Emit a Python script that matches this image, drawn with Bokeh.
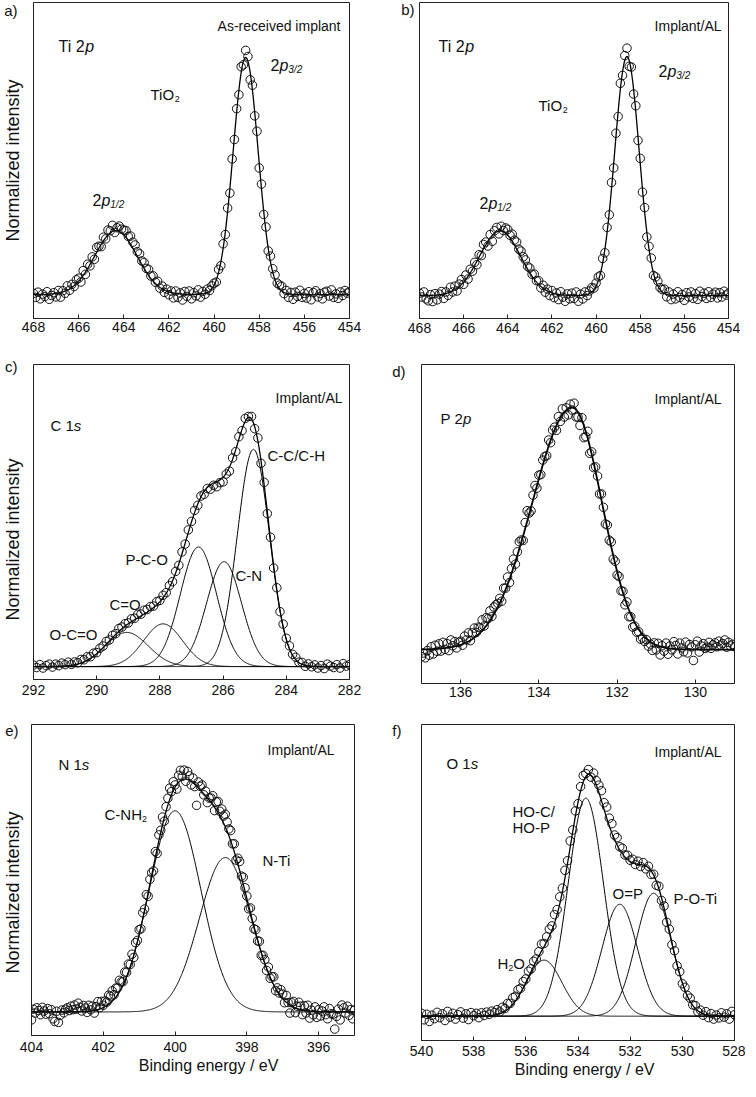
import numpy as np
from bokeh.plotting import figure
from bokeh.models import Range1d, FixedTicker, Label
from bokeh.layouts import column, row
from bokeh.embed import file_html
from bokeh.resources import INLINE

FONT = "Liberation Sans"
NB = "\u00a0"

# ---------------- fitted peak parameters -------------
# panel a: Ti 2p, as-received (single fitted envelope)
a_centers = [458.6, 464.35]
a_heights = [1.0, 0.27]
a_fwhm = [1.3, 2.2]
# panel b: Ti 2p, implant/AL
b_centers = [458.6, 464.35]
b_heights = [1.0, 0.27]
b_fwhm = [1.3, 2.2]
# panel c: C 1s components
c_names = ["O-C=O", "C=O", "P-C-O", "C-N", "C-C/C-H"]
c_centers = [289.05, 287.9, 286.78, 285.97, 285.04]
c_heights = [0.14, 0.175, 0.49, 0.43, 0.89]
c_fwhm = [1.6, 1.45, 1.35, 1.3, 1.2]
# panel d: P 2p (asymmetric envelope)
d_center = 133.15
d_height = 1.0
d_hwhm_high = 1.2
d_hwhm_low = 0.9
# panel e: N 1s components
e_names = ["C-NH2", "N-Ti"]
e_centers = [400.0, 398.6]
e_heights = [0.878, 0.674]
e_fwhm = [1.7, 1.7]
# panel f: O 1s components
f_names = ["H2O", "HO-C/HO-P", "O=P", "P-O-Ti"]
f_centers = [535.3, 533.7, 532.4, 531.1]
f_heights = [0.233, 0.906, 0.465, 0.511]
f_fwhm = [1.6, 1.6, 1.6, 1.6]

# ---------------- measured points (normalized intensity) ---------------------
# binding-energy scans: first value, step (eV)
a_start, a_step = 468.0, 0.1
a_y = [0.005, -0.012, 0.010, -0.018, 0.002, -0.008, 0.012, -0.020, -0.004, 0.008,
       -0.010, 0.017, -0.011, 0.016, 0.005, 0.037, 0.018, 0.043, 0.034, 0.062,
       0.069, 0.053, 0.101, 0.085, 0.128, 0.121, 0.159, 0.149, 0.199, 0.204,
       0.202, 0.242, 0.235, 0.272, 0.269, 0.292, 0.262, 0.282, 0.289, 0.276,
       0.272, 0.270, 0.245, 0.247, 0.221, 0.209, 0.181, 0.172, 0.142, 0.135,
       0.110, 0.106, 0.078, 0.079, 0.052, 0.056, 0.027, 0.036, 0.009, 0.023,
       -0.001, 0.015, -0.014, 0.015, -0.012, 0.007, -0.023, 0.013, -0.008, 0.015,
       -0.018, 0.008, -0.006, 0.020, -0.011, 0.013, 0.001, 0.023, 0.017, 0.037,
       0.048, 0.053, 0.106, 0.122, 0.214, 0.253, 0.365, 0.428, 0.572, 0.654,
       0.784, 0.843, 0.961, 0.969, 1.030, 1.004, 0.906, 0.883, 0.754, 0.689,
       0.534, 0.466, 0.338, 0.285, 0.184, 0.162, 0.109, 0.083, 0.048, 0.040,
       0.035, 0.004, 0.017, -0.012, 0.009, -0.020, 0.010, -0.008, 0.018, -0.012,
       0.005, -0.015, 0.012, -0.022, 0.008, 0.016, -0.010, 0.004, -0.018, 0.010,
       0.014, -0.006, 0.020, -0.012, 0.003, -0.016, 0.011, -0.004, 0.017, 0.006,
       0.012]
b_start, b_step = 468.0, 0.1
b_y = [0.010, -0.006, 0.015, -0.014, -0.022, 0.004, -0.025, 0.008, -0.018, 0.006,
       0.017, -0.012, 0.015, 0.001, 0.035, 0.015, 0.039, 0.019, 0.048, 0.067,
       0.047, 0.086, 0.069, 0.110, 0.102, 0.139, 0.129, 0.171, 0.167, 0.214,
       0.224, 0.207, 0.255, 0.227, 0.271, 0.285, 0.258, 0.290, 0.272, 0.283,
       0.277, 0.252, 0.257, 0.232, 0.224, 0.194, 0.186, 0.162, 0.149, 0.122,
       0.115, 0.089, 0.090, 0.062, 0.062, 0.032, 0.043, 0.014, 0.027, 0.000,
       0.021, -0.009, 0.011, -0.017, 0.016, -0.007, -0.024, 0.007, -0.014, 0.010,
       -0.012, 0.015, -0.024, 0.006, -0.014, 0.015, 0.000, 0.019, 0.033, 0.031,
       0.052, 0.078, 0.084, 0.155, 0.179, 0.285, 0.338, 0.473, 0.534, 0.679,
       0.749, 0.888, 0.921, 1.004, 1.035, 0.959, 0.956, 0.843, 0.794, 0.649,
       0.574, 0.433, 0.368, 0.245, 0.206, 0.157, 0.084, 0.078, 0.060, 0.033,
       0.025, 0.027, -0.005, 0.015, -0.017, 0.006, -0.014, 0.016, -0.008, 0.004,
       -0.020, 0.012, -0.006, 0.015, -0.012, 0.008, -0.016, 0.018, -0.004, 0.010,
       -0.012, 0.016, -0.008, 0.006, 0.014, -0.010, 0.012, -0.006, 0.018, 0.002,
       0.010]
c_start, c_step = 292.0, 0.1
c_y = [0.006, -0.004, 0.008, -0.006, 0.004, 0.010, -0.002, 0.010, 0.004, 0.014,
       0.008, 0.018, 0.009, 0.019, 0.016, 0.029, 0.028, 0.040, 0.040, 0.055,
       0.057, 0.075, 0.084, 0.103, 0.109, 0.128, 0.135, 0.156, 0.162, 0.176,
       0.179, 0.196, 0.198, 0.214, 0.215, 0.231, 0.234, 0.246, 0.248, 0.266,
       0.271, 0.292, 0.303, 0.332, 0.348, 0.390, 0.415, 0.470, 0.502, 0.560,
       0.595, 0.640, 0.661, 0.699, 0.706, 0.730, 0.727, 0.743, 0.737, 0.754,
       0.757, 0.789, 0.801, 0.855, 0.881, 0.942, 0.967, 1.017, 1.025, 1.025,
       0.975, 0.937, 0.833, 0.755, 0.627, 0.530, 0.404, 0.323, 0.225, 0.174,
       0.116, 0.085, 0.050, 0.038, 0.018, 0.017, 0.001, 0.011, -0.001, 0.007,
       -0.006, 0.004, -0.008, 0.010, 0.002, -0.004, 0.008, -0.006, 0.012, 0.002,
       0.008]
d_start, d_step = 137.0, 0.05
d_y = [-0.029, -0.014, -0.034, -0.004, -0.023, 0.012, -0.018, 0.018, -0.007, 0.024,
       -0.006, 0.030, 0.001, 0.025, -0.004, 0.040, 0.016, 0.033, 0.007, 0.030,
       0.035, 0.018, 0.056, 0.040, 0.069, 0.037, 0.069, 0.089, 0.071, 0.093,
       0.090, 0.123, 0.097, 0.132, 0.128, 0.160, 0.137, 0.176, 0.185, 0.191,
       0.212, 0.200, 0.254, 0.254, 0.300, 0.277, 0.335, 0.374, 0.353, 0.404,
       0.446, 0.453, 0.451, 0.525, 0.574, 0.564, 0.573, 0.638, 0.678, 0.667,
       0.721, 0.723, 0.783, 0.798, 0.801, 0.866, 0.855, 0.907, 0.919, 0.906,
       0.963, 0.943, 0.995, 0.961, 0.999, 0.970, 1.014, 0.990, 1.018, 0.961,
       0.961, 0.926, 0.958, 0.876, 0.880, 0.902, 0.811, 0.817, 0.752, 0.755,
       0.717, 0.643, 0.643, 0.588, 0.519, 0.515, 0.452, 0.445, 0.374, 0.365,
       0.308, 0.302, 0.243, 0.241, 0.185, 0.197, 0.136, 0.136, 0.093, 0.097,
       0.072, 0.074, 0.043, 0.048, 0.034, 0.041, 0.014, 0.023, -0.003, 0.028,
       -0.001, 0.026, -0.022, 0.016, -0.006, 0.027, -0.019, 0.015, -0.001, 0.033,
       0.017, -0.018, 0.027, 0.007, -0.009, 0.031, -0.014, 0.021, 0.011, -0.045,
       0.020, 0.035, -0.010, 0.015, 0.025, 0.005, 0.010, 0.030, 0.005, 0.020,
       0.028, 0.012, 0.035, 0.018, 0.025, 0.040, 0.010, 0.030, 0.015, 0.022,
       0.012]
e_start, e_step = 404.0, 0.05
e_y = [-0.035, 0.012, -0.005, 0.018, 0.006, -0.012, 0.020, 0.004, -0.010, 0.015,
       -0.008, 0.010, -0.030, -0.042, 0.003, -0.046, -0.015, 0.008, -0.004, 0.012,
       0.018, 0.006, 0.025, 0.010, 0.030, 0.012, 0.038, 0.020, 0.004, 0.028,
       0.017, -0.002, 0.029, 0.009, 0.025, -0.005, 0.023, 0.045, 0.018, 0.046,
       0.029, 0.048, 0.043, 0.073, 0.069, 0.092, 0.075, 0.104, 0.105, 0.138,
       0.131, 0.132, 0.174, 0.173, 0.209, 0.207, 0.252, 0.238, 0.302, 0.312,
       0.359, 0.363, 0.433, 0.449, 0.512, 0.505, 0.579, 0.608, 0.616, 0.700,
       0.692, 0.773, 0.793, 0.851, 0.833, 0.896, 0.933, 0.977, 0.962, 1.005,
       0.991, 0.973, 1.033, 1.055, 1.029, 1.056, 1.007, 1.050, 1.031, 0.991,
       1.021, 0.984, 0.902, 1.004, 0.985, 0.991, 0.948, 0.964, 0.914, 0.934,
       0.934, 0.944, 0.879, 0.917, 0.919, 0.876, 0.886, 0.855, 0.863, 0.829,
       0.799, 0.792, 0.734, 0.734, 0.663, 0.671, 0.657, 0.593, 0.588, 0.542,
       0.506, 0.450, 0.454, 0.408, 0.363, 0.359, 0.310, 0.308, 0.247, 0.247,
       0.228, 0.181, 0.196, 0.147, 0.154, 0.153, 0.093, 0.105, 0.083, 0.097,
       0.078, 0.040, 0.072, 0.041, -0.005, 0.040, 0.046, -0.003, 0.025, 0.042,
       0.025, -0.012, 0.027, -0.005, 0.029, -0.027, 0.008, -0.013, 0.022, -0.024,
       0.010, -0.018, 0.004, 0.022, -0.012, -0.030, 0.015, -0.008, -0.010, -0.075,
       -0.020, 0.012, -0.035, 0.030, 0.018, -0.005, 0.025, -0.015, 0.010, -0.030,
       0.008]
f_start, f_step = 540.0, 0.1
f_y = [0.012, -0.015, 0.008, -0.022, 0.004, -0.010, 0.016, -0.006, 0.010, -0.018,
       0.020, -0.004, 0.012, -0.012, 0.006, 0.018, -0.008, 0.010, -0.014, 0.015,
       0.002, 0.012, -0.006, 0.014, 0.003, 0.017, 0.008, 0.021, 0.015, 0.027,
       0.018, 0.037, 0.032, 0.053, 0.053, 0.077, 0.083, 0.110, 0.116, 0.144,
       0.155, 0.187, 0.197, 0.228, 0.238, 0.268, 0.300, 0.302, 0.330, 0.362,
       0.375, 0.422, 0.443, 0.496, 0.532, 0.606, 0.646, 0.728, 0.774, 0.853,
       0.883, 0.954, 1.000, 1.008, 1.025, 0.993, 1.010, 0.979, 0.960, 0.937,
       0.887, 0.869, 0.823, 0.800, 0.753, 0.742, 0.704, 0.698, 0.670, 0.669,
       0.648, 0.652, 0.630, 0.644, 0.622, 0.638, 0.612, 0.623, 0.589, 0.590,
       0.544, 0.540, 0.481, 0.458, 0.390, 0.362, 0.297, 0.272, 0.209, 0.185,
       0.135, 0.120, 0.086, 0.075, 0.047, 0.044, 0.018, 0.025, 0.004, 0.019,
       -0.006, 0.011, -0.012, 0.005, -0.007, 0.014, -0.004, 0.010, -0.012, 0.020,
       0.006]

# tick labels
a_ticks = [468, 466, 464, 462, 460, 458, 456, 454]
c_ticks = [292, 290, 288, 286, 284, 282]
d_ticks = [136, 134, 132, 130]
e_ticks = [404, 402, 400, 398, 396]
f_ticks = [540, 538, 536, 534, 532, 530, 528]

AW = {"T": .611, "i": .222, " ": .278, "2": .556, "p": .556, "O": .778, "1": .556,
      "C": .722, "s": .5, "P": .667, "N": .722, "H": .722, "-": .333, "=": .584,
      "/": .278, "3": .556}


def tw(s, size):
    return sum(AW.get(ch, .556) for ch in s) * size


def gauss(x, c, h, w):
    return h * np.exp(-4 * np.log(2) * (x - c) ** 2 / w ** 2)


def scan(start, step, ys):
    return np.round(start - step * np.arange(len(ys)), 3)


def make(P, ticks, standoff):
    p = figure(frame_width=P["W"], frame_height=P["H"], min_border_left=P["bl"],
               min_border_right=P["br"], min_border_top=P["bt"], min_border_bottom=P["bb"],
               x_range=Range1d(P["x0"], P["x1"]), y_range=Range1d(P["y0"], P["y1"]),
               output_backend="svg", toolbar_location=None, title=None)
    p.grid.visible = False
    p.outline_line_color = "#222222"
    p.outline_line_width = 1
    p.outline_line_alpha = 1
    ax = p.xaxis[0]
    ax.ticker = FixedTicker(ticks=ticks)
    ax.major_tick_in = 4
    ax.major_tick_out = 0
    ax.minor_tick_line_color = None
    ax.major_tick_line_color = "#222222"
    ax.axis_line_color = "#222222"
    ax.major_label_text_font = FONT
    ax.major_label_text_font_size = "14px"
    ax.major_label_text_color = "#111111"
    ax.major_label_standoff = standoff
    ax.axis_label_text_font = FONT
    ax.axis_label_text_font_size = "16px"
    ax.axis_label_text_font_style = "normal"
    ax.axis_label_text_color = "#111111"
    p.background_fill_color = "white"
    p.border_fill_color = "white"
    return p


def left_axis(p, P, letter, py, right_px, ylabel=None, lab_standoff=0):
    yv = round(P["y0"] + (P["T"] + P["H"] - py) / P["H"] * (P["y1"] - P["y0"]), 4)
    ay = p.yaxis[0]
    ay.ticker = FixedTicker(ticks=[yv])
    ay.major_label_overrides = {yv: letter}
    ay.major_tick_line_color = None
    ay.minor_tick_line_color = None
    ay.major_tick_in = 0
    ay.major_tick_out = 0
    ay.axis_line_color = None
    ay.major_label_standoff = P["L"] - right_px
    ay.major_label_text_font = FONT
    ay.major_label_text_font_size = "15px"
    ay.major_label_text_color = "#111111"
    if ylabel:
        ay.axis_label = ylabel
        ay.axis_label_standoff = lab_standoff
        ay.axis_label_text_font = FONT
        ay.axis_label_text_font_size = "18px"
        ay.axis_label_text_font_style = "normal"
        ay.axis_label_text_color = "#111111"


def tx(p, P, px, py, s, size, italic=False, align="left"):
    x = P["x0"] + (px - P["L"]) / P["W"] * (P["x1"] - P["x0"])
    y = P["y0"] + (P["T"] + P["H"] - py) / P["H"] * (P["y1"] - P["y0"])
    p.add_layout(Label(x=x, y=y, text=s, text_font=FONT, text_font_size=f"{size}px",
                       text_font_style="italic" if italic else "normal",
                       text_align=align, text_baseline="alphabetic",
                       text_color="#111111"))


def rich(p, P, px, pyc, parts, size):
    base = pyc + 0.35 * size
    x = px
    for s, sz, it, dy in parts:
        tx(p, P, x, base + dy, s, sz, it)
        x += tw(s, sz)


def points(p, start, step, ys):
    p.scatter(scan(start, step, ys), ys, marker="circle", size=8.5, fill_alpha=0,
              line_color="#111111", line_width=1)


# --------------------------- panel geometry (page px) ------------------------
PA = dict(L=36, T=10, W=316, H=316, bl=28, bt=2, br=12, bb=39, x0=468, x1=454, y0=-0.101, y1=1.232)
PB = dict(L=422, T=9, W=309, H=316, bl=58, bt=1, br=12, bb=40, x0=468, x1=454, y0=-0.096, y1=1.226)
PC = dict(L=36, T=372, W=316, H=315, bl=28, bt=7, br=12, bb=38, x0=292, x1=282, y0=-0.053, y1=1.238)
PD = dict(L=424, T=368, W=313, H=319, bl=60, bt=3, br=11, bb=38, x0=137, x1=129, y0=-0.14, y1=1.178)
PE = dict(L=34, T=732, W=323, H=311, bl=26, bt=7, br=12, bb=46, x0=404, x1=395, y0=-0.103, y1=1.255)
PF = dict(L=424, T=729, W=313, H=316, bl=55, bt=4, br=11, bb=44, x0=540, x1=528, y0=-0.101, y1=1.212)

LW_ENV = 1.3
LW_COMP = 1.0
YL = "Normalized intensity"

# ------------------------------- panel a ------------------------------------
pa = make(PA, a_ticks, 3)
xa = np.linspace(468, 454, 700)
ya = sum(gauss(xa, c, h, w) for c, h, w in zip(a_centers, a_heights, a_fwhm))
pa.line(xa, ya, line_color="black", line_width=LW_ENV)
points(pa, a_start, a_step, a_y)
tx(pa, PA, 343, 33, "As-received implant", 14, align="right")
rich(pa, PA, 61, 48, [("Ti 2", 16, False, 0), ("p", 16, True, 0)], 16)
rich(pa, PA, 153, 97, [("TiO", 15, False, 0), ("2", 9, False, 4)], 15)
rich(pa, PA, 95, 202, [("2", 16, False, 0), ("p", 16, True, 0), ("1/2", 10, True, 4)], 16)
rich(pa, PA, 273, 67, [("2", 16, False, 0), ("p", 16, True, 0), ("3/2", 10, True, 4)], 16)
left_axis(pa, PA, "a)", 15, 20, YL, -22)

# ------------------------------- panel b ------------------------------------
pb = make(PB, a_ticks, 4)
yb = sum(gauss(xa, c, h, w) for c, h, w in zip(b_centers, b_heights, b_fwhm))
pb.line(xa, yb, line_color="black", line_width=LW_ENV)
points(pb, b_start, b_step, b_y)
tx(pb, PB, 724, 32, "Implant/AL", 14, align="right")
rich(pb, PB, 441, 47, [("Ti 2", 16, False, 0), ("p", 16, True, 0)], 16)
rich(pb, PB, 541, 107, [("TiO", 15, False, 0), ("2", 9, False, 4)], 15)
rich(pb, PB, 482, 204, [("2", 16, False, 0), ("p", 16, True, 0), ("1/2", 10, True, 4)], 16)
rich(pb, PB, 661, 72, [("2", 16, False, 0), ("p", 16, True, 0), ("3/2", 10, True, 4)], 16)
left_axis(pb, PB, "b)", 15, 417)

# ------------------------------- panel c ------------------------------------
pc = make(PC, c_ticks, 5)
xc = np.linspace(292, 282, 700)
comps = [gauss(xc, c, h, w) for c, h, w in zip(c_centers, c_heights, c_fwhm)]
for yy in comps:
    pc.line(xc, yy, line_color="black", line_width=LW_COMP)
pc.line(xc, sum(comps), line_color="black", line_width=LW_ENV)
points(pc, c_start, c_step, c_y)
tx(pc, PC, 345, 405, "Implant/AL", 14, align="right")
rich(pc, PC, 53, 428, [("C 1", 15, False, 0), ("s", 15, True, 0)], 15)
rich(pc, PC, 270, 458, [("C-C/C-H", 15, False, 0)], 15)
rich(pc, PC, 128, 562, [("P-C-O", 15, False, 0)], 15)
rich(pc, PC, 238, 578, [("C-N", 15, False, 0)], 15)
rich(pc, PC, 112, 607, [("C=O", 15, False, 0)], 15)
rich(pc, PC, 52, 637, [("O-C=O", 15, False, 0)], 15)
left_axis(pc, PC, "c)", 373, 20, YL + NB * 7, -21)

# ------------------------------- panel d ------------------------------------
pd_ = make(PD, d_ticks, 3)
xd = np.linspace(137, 129, 700)
hw = np.where(xd > d_center, d_hwhm_high, d_hwhm_low)
yd = d_height * np.exp(-np.log(2) * (xd - d_center) ** 2 / hw ** 2)
pd_.line(xd, yd, line_color="black", line_width=1.8)
points(pd_, d_start, d_step, d_y)
tx(pd_, PD, 724, 402, "Implant/AL", 14, align="right")
rich(pd_, PD, 443, 417, [("P 2", 15, False, 0), ("p", 15, True, 0)], 15)
left_axis(pd_, PD, "d)", 375, 408)

# ------------------------------- panel e ------------------------------------
pe = make(PE, e_ticks, 6)
xe = np.linspace(404, 395, 700)
comps = [gauss(xe, c, h, w) for c, h, w in zip(e_centers, e_heights, e_fwhm)]
for yy in comps:
    pe.line(xe, yy, line_color="black", line_width=LW_COMP)
pe.line(xe, sum(comps), line_color="black", line_width=LW_ENV)
points(pe, e_start, e_step, e_y)
tx(pe, PE, 337, 757, "Implant/AL", 14, align="right")
rich(pe, PE, 61, 767, [("N 1", 15, False, 0), ("s", 15, True, 0)], 15)
rich(pe, PE, 107, 817, [("C-NH", 15, False, 0), ("2", 9, False, 4)], 15)
rich(pe, PE, 265, 863, [("N-Ti", 15, False, 0)], 15)
left_axis(pe, PE, "e)", 738, 21, YL + NB * 5, -21)
pe.xaxis[0].axis_label = NB * 7 + "Binding energy / eV"
pe.xaxis[0].axis_label_standoff = 2

# ------------------------------- panel f ------------------------------------
pf = make(PF, f_ticks, 5)
xf = np.linspace(540, 528, 700)
comps = [gauss(xf, c, h, w) for c, h, w in zip(f_centers, f_heights, f_fwhm)]
for yy in comps:
    pf.line(xf, yy, line_color="black", line_width=LW_COMP)
pf.line(xf, sum(comps), line_color="black", line_width=LW_ENV)
points(pf, f_start, f_step, f_y)
tx(pf, PF, 724, 756, "Implant/AL", 14, align="right")
rich(pf, PF, 449, 763, [("O 1", 15, False, 0), ("s", 15, True, 0)], 15)
rich(pf, PF, 515, 811, [("HO-C/", 15, False, 0)], 15)
rich(pf, PF, 515, 827, [("HO-P", 15, False, 0)], 15)
rich(pf, PF, 615, 893, [("O=P", 15, False, 0)], 15)
rich(pf, PF, 676, 898, [("P-O-Ti", 15, False, 0)], 15)
rich(pf, PF, 500, 963, [("H", 15, False, 0), ("2", 9, False, 4), ("O", 15, False, 0)], 15)
left_axis(pf, PF, "f)", 735, 404)
pf.xaxis[0].axis_label = NB * 3 + "Binding energy / eV"
pf.xaxis[0].axis_label_standoff = 2

layout = column(row(pa, pb), row(pc, pd_), row(pe, pf))
open("out.html", "w").write(file_html(layout, INLINE))
